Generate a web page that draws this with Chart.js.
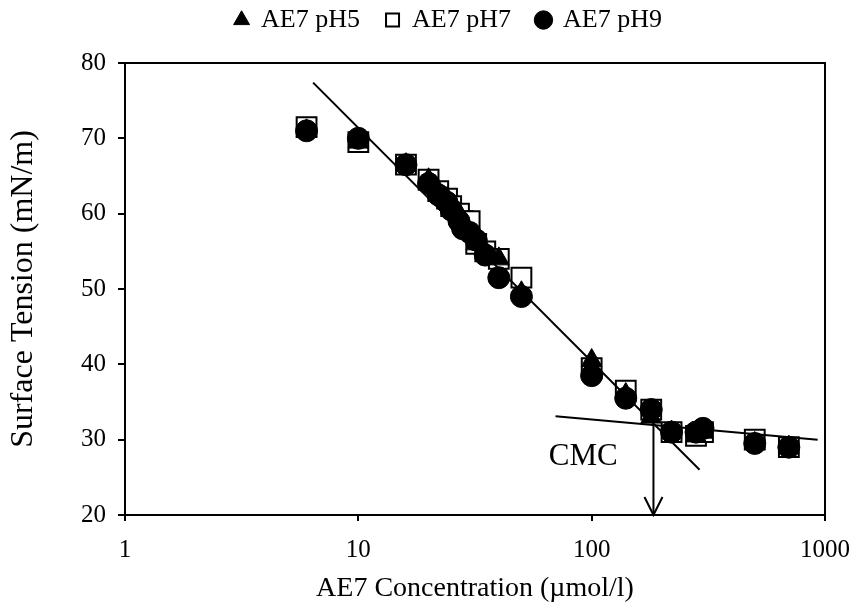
<!DOCTYPE html>
<html>
<head>
<meta charset="utf-8">
<script src="https://cdn.jsdelivr.net/npm/chart.js@4/dist/chart.umd.min.js"></script>
<style>
  html, body { margin: 0; padding: 0; background: #fff; }
  #wrap { width: 858px; height: 608px; }
</style>
</head>
<body>
<div id="wrap"><canvas id="stChart"></canvas></div>
<script>
// AE7 concentration (umol/l) and surface tension (mN/m)
const concentration = [6, 10, 16, 20, 22, 24, 25, 27, 28, 30, 32, 35, 40, 50, 100, 140, 180, 220, 280, 300, 500, 700];
const tensionPH5 = [71, 69.5, 66.5, 64.5, 63, 62, 61, 60, 58.5, 57.5, 56, 55, 54, 49.5, 40.5, 36, 33, 31, 30.5, 31, 29.5, 29];
const tensionPH7 = [71.5, 69.5, 66.5, 64.5, 63, 62, 61, 60, 59, 59, 56, 55, 54, 51.5, 39.5, 36.5, 34, 31, 30.5, 31, 30, 29];
const tensionPH9 = [71, 70, 66.5, 64, 62.5, 61.5, 60.5, 59, 58, 57.5, 56.5, 54.5, 51.5, 49, 38.5, 35.5, 34, 31, 31, 31.5, 29.5, 29];

const xTicks = [1, 10, 100, 1000];
const yTicks = [20, 30, 40, 50, 60, 70, 80];

// the two fitted lines (end points) and the CMC marker
const steepFitX = [6.4, 290];
const steepFitY = [77.4, 26.0];
const flatFitX = [70, 930];
const flatFitY = [33.1, 30.0];
const cmcValue = 184;
const cmcArrowY = [32, 20];
const cmcLabel = { x: 92, y: 27.7 };

const serif = '"Liberation Serif", "Times New Roman", serif';

function toPoints(xs, ys) {
    return xs.map((x, i) => ({ x: x, y: ys[i] }));
}

// legend sits higher and a bit right of where Chart.js centres it
const legendShift = {
    id: 'legendShift',
    afterLayout(chart) {
        const lg = chart.legend;
        if (!lg) return;
        lg.top -= 20;
        lg.bottom -= 20;
        lg.left += 36;
        lg.right += 36;
    }
};

const frameAndArrow = {
    id: 'frameAndArrow',
    afterDatasetsDraw(chart) {
        const { ctx, chartArea: a, scales: { x, y } } = chart;
        ctx.save();
        ctx.strokeStyle = '#000';
        ctx.lineWidth = 2;
        ctx.strokeRect(a.left, a.top, a.right - a.left, a.bottom - a.top);

        // arrow head at the bottom of the CMC line
        const px = x.getPixelForValue(cmcValue);
        const py = y.getPixelForValue(cmcArrowY[1]);
        ctx.beginPath();
        ctx.moveTo(px - 9, py - 18);
        ctx.lineTo(px, py);
        ctx.lineTo(px + 9, py - 18);
        ctx.stroke();

        ctx.fillStyle = '#000';
        ctx.font = '31px ' + serif;
        ctx.textAlign = 'center';
        ctx.textBaseline = 'middle';
        ctx.fillText('CMC', x.getPixelForValue(cmcLabel.x), y.getPixelForValue(cmcLabel.y));
        ctx.restore();
    }
};

const lineStyle = {
    type: 'line',
    borderColor: '#000',
    borderWidth: 2,
    pointRadius: 0,
    fill: false,
    order: -1
};

new Chart(document.getElementById('stChart'), {
    type: 'scatter',
    data: {
        datasets: [
            {
                label: 'AE7 pH5',
                data: toPoints(concentration, tensionPH5),
                pointStyle: 'triangle',
                pointRadius: 12,
                backgroundColor: '#000',
                borderColor: '#000',
                borderWidth: 1,
                order: 1
            },
            {
                label: 'AE7 pH7',
                data: toPoints(concentration, tensionPH7),
                pointStyle: 'rect',
                pointRadius: 14,
                backgroundColor: '#fff',
                borderColor: '#000',
                borderWidth: 2,
                order: 2
            },
            {
                label: 'AE7 pH9',
                data: toPoints(concentration, tensionPH9),
                pointStyle: 'circle',
                pointRadius: 11,
                backgroundColor: '#000',
                borderColor: '#000',
                borderWidth: 1,
                order: 0
            },
            Object.assign({ data: toPoints(steepFitX, steepFitY) }, lineStyle),
            Object.assign({ data: toPoints(flatFitX, flatFitY) }, lineStyle),
            Object.assign({ data: toPoints([cmcValue, cmcValue], cmcArrowY) }, lineStyle)
        ]
    },
    options: {
        responsive: true,
        maintainAspectRatio: false,
        animation: false,
        layout: {
            padding: { top: 1, right: 33, bottom: 0, left: 0 }
        },
        plugins: {
            tooltip: { enabled: false },
            legend: {
                position: 'top',
                labels: {
                    usePointStyle: true,
                    boxWidth: 13,
                    boxHeight: 13,
                    padding: 26,
                    color: '#000',
                    font: { family: serif, size: 26 },
                    filter: item => item.text !== undefined && item.text !== '',
                    sort: (a, b) => a.datasetIndex - b.datasetIndex
                }
            }
        },
        scales: {
            x: {
                type: 'logarithmic',
                min: 1,
                max: 1000,
                afterBuildTicks: scale => {
                    scale.ticks = xTicks.map(v => ({ value: v }));
                },
                afterFit: scale => {
                    scale.height = 93;
                    scale.paddingLeft = 0;
                    scale.paddingRight = 0;
                },
                ticks: {
                    color: '#000',
                    font: { family: serif, size: 25 },
                    padding: 14,
                    maxRotation: 0,
                    callback: v => String(v)
                },
                grid: { drawOnChartArea: false, color: '#000', lineWidth: 2, tickLength: 6 },
                border: { color: '#000', width: 2 },
                title: {
                    display: true,
                    text: 'AE7 Concentration (\u00b5mol/l)',
                    color: '#000',
                    font: { family: serif, size: 28 },
                    padding: { top: 0, bottom: 3 }
                }
            },
            y: {
                min: 20,
                max: 80,
                afterBuildTicks: scale => {
                    scale.ticks = yTicks.map(v => ({ value: v }));
                },
                afterFit: scale => { scale.width = 125; },
                ticks: {
                    color: '#000',
                    font: { family: serif, size: 25 },
                    padding: 12
                },
                grid: { drawOnChartArea: false, color: '#000', lineWidth: 2, tickLength: 7 },
                border: { color: '#000', width: 2 },
                title: {
                    display: true,
                    text: 'Surface Tension (mN/m)',
                    color: '#000',
                    font: { family: serif, size: 32 }
                }
            }
        }
    },
    plugins: [legendShift, frameAndArrow]
});
</script>
</body>
</html>
